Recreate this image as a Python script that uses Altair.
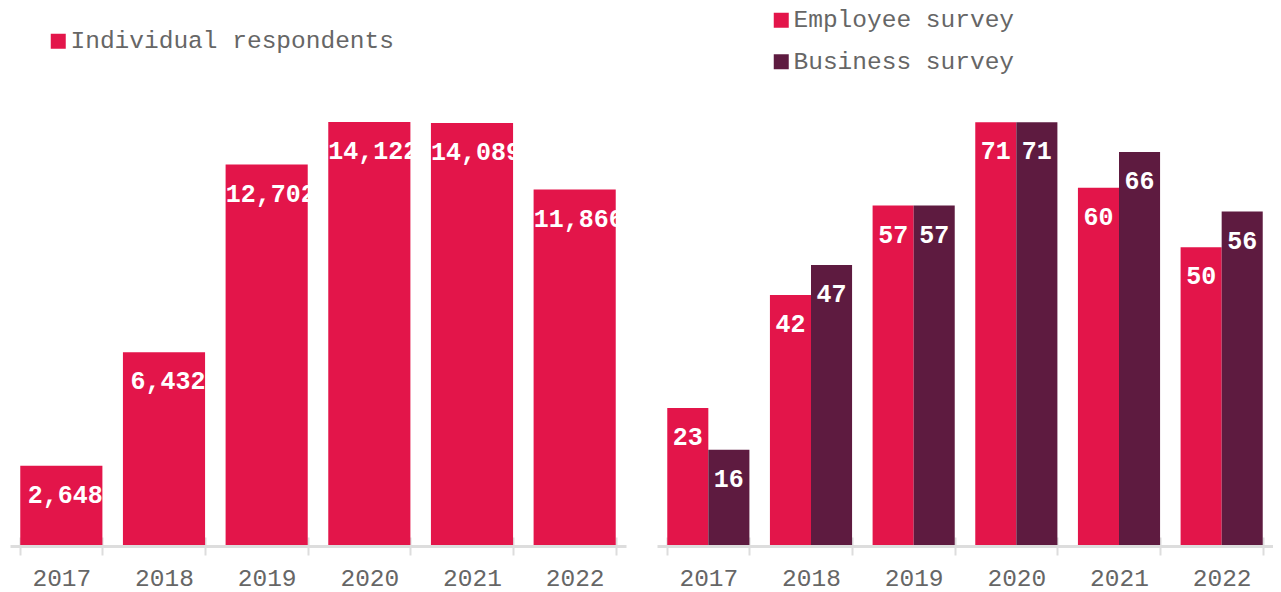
import altair as alt
import pandas as pd

years = ["2017", "2018", "2019", "2020", "2021", "2022"]
individual = [2648, 6432, 12702, 14122, 14089, 11866]
employee = [23, 42, 57, 71, 60, 50]
business = [16, 47, 57, 71, 66, 56]

RED = "#E3154A"
PLUM = "#5E1B40"
FONT = "Liberation Mono"
GREY = "#666666"
LINE = "#dddddd"
W, H = 616, 424

left_df = pd.DataFrame({"year": years, "value": individual,
                        "series": ["Individual respondents"] * len(years)})
left_df["label"] = [f"{v:,}" for v in individual]

series_order = ["Employee survey", "Business survey"]
right_df = pd.DataFrame({
    "year": years * 2,
    "value": employee + business,
    "series": [series_order[0]] * len(years) + [series_order[1]] * len(years),
})

XSCALE = dict(paddingInner=0.2, paddingOuter=0.1)


def xmain():
    # baseline, downward ticks and labels
    return alt.X(
        "year:O", scale=alt.Scale(**XSCALE),
        axis=alt.Axis(title=None, orient="bottom", domain=True, domainColor=LINE,
                      domainWidth=3, offset=1, tickBand="extent", tickSize=9,
                      tickColor=LINE, tickWidth=2,
                      labelFont=FONT, labelFontSize=24.5, labelColor=GREY,
                      labelPadding=11, labelAngle=0),
    )


def xstub():
    # upward part of the ticks
    return alt.X(
        "year:O", scale=alt.Scale(**XSCALE),
        axis=alt.Axis(title=None, orient="bottom", domain=False, labels=False,
                      offset=-8, tickBand="extent", tickSize=9,
                      tickColor=LINE, tickWidth=2),
    )


def legend(x, y):
    return alt.Legend(title=None, orient="none", legendX=x, legendY=y,
                      symbolType="square", symbolSize=225, symbolStrokeWidth=0,
                      symbolOpacity=1, labelFont=FONT, labelFontSize=24.5,
                      labelColor=GREY, labelOffset=0, labelLimit=500,
                      padding=0, rowPadding=16.5)


# Left panel
lbase = alt.Chart(left_df)
ly = alt.Y("value:Q", scale=alt.Scale(domain=[0, 14155], nice=False), axis=None)
lbars = lbase.mark_bar().encode(
    x=xmain(), y=ly,
    color=alt.Color("series:N", scale=alt.Scale(range=[RED]), legend=legend(36, -92)),
)
ltext = lbase.mark_text(color="white", font=FONT, fontSize=25, fontWeight="bold",
                        baseline="middle", dy=29, dx=4).encode(
    x=xstub(), y=ly, text="label:N")
left = (alt.layer(lbars, ltext).resolve_axis(x="independent")
        .properties(width=W, height=H))

# Right panel
rbase = alt.Chart(right_df)
ry = alt.Y("value:Q", scale=alt.Scale(domain=[0, 71.2], nice=False), axis=None)
roff = alt.XOffset("series:N", sort=series_order, scale=alt.Scale(domain=series_order))
rbars = rbase.mark_bar().encode(
    x=xmain(), xOffset=roff, y=ry,
    color=alt.Color("series:N", sort=series_order,
                    scale=alt.Scale(domain=series_order, range=[RED, PLUM]),
                    legend=legend(112, -113)),
)
rtext = rbase.mark_text(color="white", font=FONT, fontSize=25, fontWeight="bold",
                        baseline="middle", dy=29).encode(
    x=xstub(), xOffset=roff, y=ry, text="value:Q")
right = (alt.layer(rbars, rtext).resolve_axis(x="independent")
         .properties(width=W, height=H))

chart = (
    alt.hconcat(left, right, spacing=31)
    .resolve_scale(color="independent", y="independent")
    .resolve_legend(color="independent")
    .properties(padding={"left": 2, "top": 0, "right": 0, "bottom": 4},
                background="white")
    .configure_view(stroke=None)
)

chart.save("out.html", embed_options={"renderer": "svg", "actions": False})
